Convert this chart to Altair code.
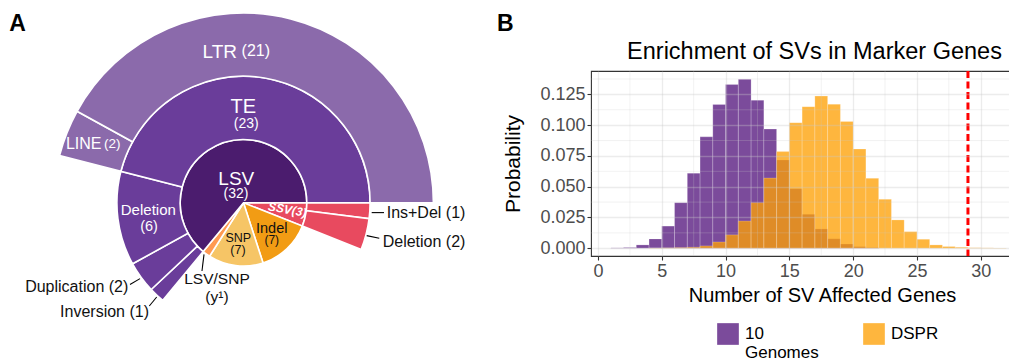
import math
import altair as alt
import pandas as pd

# ---------------- Panel A data (sunburst) ----------------
inner_names = ["SSV", "Indel", "SNP", "LSV/SNP", "LSV"]
inner_counts = [3, 7, 7, 1, 32]
inner_colors = ["#E84A5F", "#F29C14", "#F6C566", "#FF9A52", "#4B1C6E"]

ssv_children = ["Ins+Del", "Deletion"]
ssv_child_counts = [1, 2]
lsv_children = ["Inversion", "Duplication", "Deletion", "TE"]
lsv_child_counts = [1, 2, 6, 23]
te_children = ["LINE", "LTR"]
te_child_counts = [2, 21]

RED = "#E84A5F"
MID_PURPLE = "#6A3D9A"
LIGHT_PURPLE = "#8B6AAB"

# ---------------- Panel B data (histograms) ----------------
bins_10g = list(range(1, 22))
prob_10g = [0.0003, 0.0006, 0.0027, 0.0076, 0.018, 0.037, 0.061, 0.0905, 0.1168,
            0.1331, 0.1372, 0.1203, 0.0968, 0.0717, 0.0484, 0.0276, 0.0157,
            0.0077, 0.0034, 0.0013, 0.0005]
bins_dspr = list(range(4, 32))
prob_dspr = [0.0002, 0.0003, 0.0005, 0.0008, 0.0019, 0.0051, 0.0109, 0.0221, 0.037,
             0.057, 0.0785, 0.102, 0.115, 0.1236, 0.117, 0.103, 0.0806, 0.0568,
             0.0398, 0.023, 0.0135, 0.0073, 0.0027, 0.0014, 0.0008, 0.0004, 0.0003,
             0.0002]
observed = 29
groups = ["10 Genomes", "DSPR"]
x_ticks = [0, 5, 10, 15, 20, 25, 30]
y_ticks = [0, 0.025, 0.05, 0.075, 0.1, 0.125]
minor_x = [2.5, 7.5, 12.5, 17.5, 22.5, 27.5, 32.5]
minor_y = [0.0125, 0.0375, 0.0625, 0.0875, 0.1125, 0.1375]
title_b = "Enrichment of SVs in Marker Genes"

FONT = "Liberation Sans"

# ---------------- build arcs ----------------
rows = []
start = 0
starts = {}
for n, c, col in zip(inner_names, inner_counts, inner_colors):
    rows.append(dict(name=n, u0=start, u1=start + c, r0=0, r1=1, fill=col))
    starts[n] = start
    start += c

s = starts["SSV"]
for n, c in zip(ssv_children, ssv_child_counts):
    rows.append(dict(name=n, u0=s, u1=s + c, r0=1, r1=2, fill=RED))
    s += c
s = starts["LSV"]
for n, c in zip(lsv_children, lsv_child_counts):
    rows.append(dict(name=n, u0=s, u1=s + c, r0=1, r1=2, fill=MID_PURPLE))
    if n == "TE":
        starts["TE"] = s
    s += c
s = starts["TE"]
for n, c in zip(te_children, te_child_counts):
    rows.append(dict(name=n, u0=s, u1=s + c, r0=2, r1=3, fill=LIGHT_PURPLE))
    s += c
arc_df = pd.DataFrame(rows)
total = sum(inner_counts)

R_PX = 63.3
WA, HA = 480, 260
CX, CY = 235.5, 131.8
xs = alt.Scale(domain=[-CX / R_PX, (WA - CX) / R_PX], nice=False, zero=False)
ys = alt.Scale(domain=[-(HA - CY) / R_PX, CY / R_PX], nice=False, zero=False)

arcs = alt.Chart(arc_df).mark_arc(stroke="white", strokeWidth=1.6).encode(
    x=alt.X(datum=0, scale=xs, axis=None),
    y=alt.Y(datum=0, scale=ys, axis=None),
    theta=alt.Theta("u0:Q", stack=None,
                    scale=alt.Scale(domain=[0, total],
                                    range=[math.pi / 2, math.pi / 2 + 2 * math.pi])),
    theta2="u1:Q",
    radius=alt.Radius("r1:Q", scale=alt.Scale(type="linear", domain=[0, 3],
                                              range=[0, 3 * R_PX], zero=True)),
    radius2="r0:Q",
    color=alt.Color("fill:N", scale=None),
)

W = "#FFFFFF"
K = "#111111"
# text, x, y (chart units), size, colour, align
labels = [
    ("LTR", -0.374, 2.294, 19, W, "center"),
    ("(21)", 0.194, 2.314, 16, W, "center"),
    ("TE", -0.003, 1.425, 20, W, "center"),
    ("(23)", 0.044, 1.188, 14, W, "center"),
    ("LSV", -0.114, 0.288, 19, W, "center"),
    ("(32)", -0.119, 0.082, 14, W, "center"),
    ("LINE", -2.525, 0.845, 16, W, "center"),
    ("(2)", -2.073, 0.872, 13.5, W, "center"),
    ("Deletion", -1.504, -0.198, 15, W, "center"),
    ("(6)", -1.493, -0.446, 14.5, W, "center"),
    ("SNP", -0.082, -0.624, 12.5, K, "center"),
    ("(7)", -0.087, -0.803, 12.5, K, "center"),
    ("Indel", 0.446, -0.471, 14.5, K, "center"),
    ("(7)", 0.446, -0.645, 12, K, "center"),
    ("LSV/SNP", -0.419, -1.288, 15.5, K, "center"),
    ("(y¹)", -0.419, -1.566, 15.5, K, "center"),
    ("Ins+Del (1)", 2.262, -0.234, 16, K, "left"),
    ("Deletion (2)", 2.199, -0.698, 16, K, "left"),
    ("Duplication (2)", -1.820, -1.409, 16, K, "right"),
    ("Inversion (1)", -1.493, -1.804, 16, K, "right"),
]
lab_df = pd.DataFrame(labels, columns=["t", "ux", "uy", "fs", "tc", "al"])


def text_layer(df, align, **kw):
    return alt.Chart(df).mark_text(align=align, baseline="alphabetic", font=FONT, **kw).encode(
        x=alt.X("ux:Q", scale=xs, axis=None),
        y=alt.Y("uy:Q", scale=ys, axis=None),
        text="t:N",
        size=alt.Size("fs:Q", scale=None),
        color=alt.Color("tc:N", scale=None),
    )


text_layers = [text_layer(lab_df[lab_df.al == a], a) for a in ["center", "left", "right"]]

ssv_df = pd.DataFrame([dict(t="SSV(3)", ux=0.692, uy=-0.107)])
ssv_text = alt.Chart(ssv_df).mark_text(
    font=FONT, fontSize=12, fontWeight="bold", fontStyle="italic", color="white",
    angle=10, align="center", baseline="middle").encode(
    x=alt.X("ux:Q", scale=xs, axis=None), y=alt.Y("uy:Q", scale=ys, axis=None), text="t:N")

a_df = pd.DataFrame([dict(t="A", ux=-3.70, uy=2.714)])
a_text = alt.Chart(a_df).mark_text(
    font=FONT, fontSize=23, fontWeight="bold", color="black", align="left",
    baseline="alphabetic").encode(
    x=alt.X("ux:Q", scale=xs, axis=None), y=alt.Y("uy:Q", scale=ys, axis=None), text="t:N")

leaders = pd.DataFrame([
    dict(x=2.025, y=-0.155, x2=2.220, y2=-0.155),
    dict(x=1.946, y=-0.518, x2=2.145, y2=-0.561),
    dict(x=-1.793, y=-1.292, x2=-1.635, y2=-1.198),
    dict(x=-1.488, y=-1.630, x2=-1.371, y2=-1.488),
    dict(x=-0.624, y=-0.814, x2=-0.656, y2=-1.077),
])
lead = alt.Chart(leaders).mark_rule(color="black", strokeWidth=1.1).encode(
    x=alt.X("x:Q", scale=xs, axis=None), y=alt.Y("y:Q", scale=ys, axis=None),
    x2="x2:Q", y2="y2:Q")

panelA = alt.layer(arcs, *text_layers, ssv_text, lead, a_text).properties(
    width=WA, height=HA, view=alt.ViewBackground(stroke=None))

# ---------------- Panel B ----------------
hrows = []
for b, p in zip(bins_10g, prob_10g):
    hrows.append(dict(group=groups[0], b0=b, b1=b + 1, p=p))
for b, p in zip(bins_dspr, prob_dspr):
    hrows.append(dict(group=groups[1], b0=b, b1=b + 1, p=p))
hist_df = pd.DataFrame(hrows)

WB, HB = 435, 185
xsb = alt.Scale(domain=[-0.55, 33.55], nice=False, zero=False)
ysb = alt.Scale(domain=[-0.0063, 0.1440], nice=False, zero=False)

axis_common = dict(labelFont=FONT, labelFontSize=18, labelColor="#4D4D4D",
                   tickColor="#333333", tickSize=4, tickWidth=1.1, domain=False,
                   labelPadding=2, labelOverlap=False, titleFont=FONT,
                   titleFontWeight="normal", titleColor="black", grid=True,
                   gridColor="#C8C8C8", gridOpacity=0.35, gridWidth=1.3, zindex=1)
x_axis = alt.Axis(values=x_ticks, titleFontSize=20, titlePadding=5, titleX=231,
                  titleAlign="center", **axis_common)
y_axis = alt.Axis(values=y_ticks, format=".3f", titleFontSize=21, titlePadding=16,
                  **axis_common)
X_TITLE = "Number of SV Affected Genes"
Y_TITLE = "Probability"

bars = alt.Chart(hist_df).mark_bar(stroke="white", strokeWidth=0.6, strokeOpacity=0.35).encode(
    x=alt.X("b0:Q", scale=xsb, title=X_TITLE, axis=x_axis),
    x2="b1:Q",
    y=alt.Y("p:Q", scale=ysb, title=Y_TITLE, axis=y_axis),
    y2=alt.datum(0),
    color=alt.Color("group:N",
                    scale=alt.Scale(domain=groups, range=["#7B4B9B", "rgba(254,160,4,0.77)"]),
                    legend=alt.Legend(orient="none", legendX=709, legendY=252,
                                      direction="horizontal", title=None,
                                      symbolType="square", symbolSize=470,
                                      symbolStrokeWidth=0, labelFont=FONT,
                                      labelFontSize=17, labelColor="black",
                                      labelExpr="datum.label == '10 Genomes' ? ['10', 'Genomes'] : [datum.label, '']",
                                      columnPadding=44, labelOffset=6, labelLimit=300)),
)

grid_x = alt.Chart(pd.DataFrame({"v": minor_x})).mark_rule(
    color="#C8C8C8", opacity=0.35, strokeWidth=0.7).encode(
    x=alt.X("v:Q", scale=xsb, title=X_TITLE, axis=x_axis))
grid_y = alt.Chart(pd.DataFrame({"v": minor_y})).mark_rule(
    color="#C8C8C8", opacity=0.35, strokeWidth=0.7).encode(
    y=alt.Y("v:Q", scale=ysb, title=Y_TITLE, axis=y_axis))

vline = alt.Chart(pd.DataFrame({"v": [observed]})).mark_rule(
    color="#FF0000", strokeDash=[7, 3.5], strokeWidth=3).encode(
    x=alt.X("v:Q", scale=xsb, title=X_TITLE, axis=x_axis))

b_text = alt.Chart(pd.DataFrame({"t": ["B"]})).mark_text(
    font=FONT, fontSize=23, fontWeight="bold", color="black", align="left",
    baseline="alphabetic").encode(x=alt.value(-94), y=alt.value(-40), text="t:N")

t_text = alt.Chart(pd.DataFrame({"t": [title_b]})).mark_text(
    font=FONT, fontSize=23.5, color="black", align="center",
    baseline="alphabetic").encode(x=alt.value(WB / 2 + 6), y=alt.value(-12.4), text="t:N")

panelB = alt.layer(bars, grid_x, grid_y, vline, b_text, t_text).properties(
    width=WB, height=HB,
    view=alt.ViewBackground(stroke="#333333", strokeWidth=1.1),
)

chart = alt.hconcat(panelA, panelB, spacing=8).properties(
    padding={"left": 0, "top": 1, "right": -18, "bottom": 0},
    background="white",
)

chart.save("out.html", embed_options={"renderer": "svg", "actions": False})
